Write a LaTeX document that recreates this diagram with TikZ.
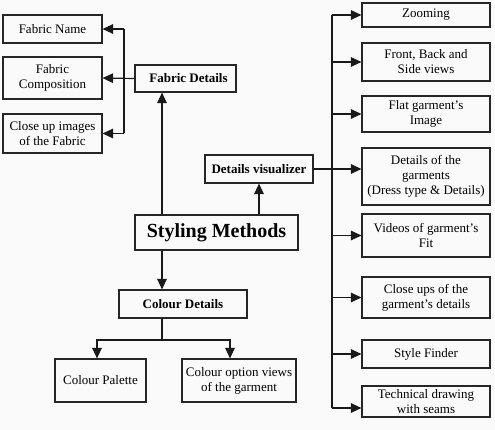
\documentclass[tikz,border=0pt]{standalone}
\usepackage{fontspec}
\setmainfont{Liberation Serif}
\usetikzlibrary{arrows.meta}

\begin{document}
\begin{tikzpicture}[x=1pt,y=-1pt,every node/.style={font=\fontsize{13}{15}\selectfont,align=center,inner sep=0pt},box/.style={draw=black!85,line width=1.1pt,minimum width=#1},box/.default=99pt,head/.style={box=#1,font=\fontsize{13}{15}\selectfont\bfseries},link/.style={line width=1.2pt,black!90},arrow/.style={link,-{Triangle[length=10.5pt,width=9.5pt]}}]
\fill[black!2] (0,0) rectangle (495,430);
% fabric branch
\node[box,minimum height=28pt] (fname) at (52.5,29) {Fabric Name};
\node[box,minimum height=42pt] (fcomp) at (52.5,78) {Fabric\\Composition};
\node[box,minimum height=39pt] (fclose) at (52.5,133.5) {Close up images\\of the Fabric};
\node[head=101pt,minimum height=27pt] (fdet) at (185.5,78.5) {\hspace{6pt}Fabric Details};
% centre
\node[box=163pt,minimum height=35pt,font=\fontsize{20}{24}\selectfont\bfseries] (sm) at (216.5,232.5) {Styling Methods};
\node[head=108pt,minimum height=28pt] (dvis) at (259,169) {Details visualizer};
% colour branch
\node[head=128pt,minimum height=28pt] (cdet) at (183,304) {Colour Details};
\node[box=91pt,minimum height=43pt] (cpal) at (100.5,380.5) {Colour Palette};
\node[box=114pt,minimum height=43pt] (copt) at (239,380.5) {Colour option views\\of the garment};
% visualizer branch
\node[box=128pt,minimum height=24pt] (zoom) at (426,15) {Zooming};
\node[box=128pt,minimum height=38pt] (front) at (426,62) {Front, Back and\\Side views};
\node[box=128pt,minimum height=36pt] (flat) at (426,114) {Flat garment’s\\Image};
\node[box=128pt,minimum height=57pt] (dgar) at (426,176.5) {Details of the\\garments\\(Dress type \& Details)};
\node[box=128pt,minimum height=43pt] (vid) at (426,235.5) {Videos of garment’s\\Fit};
\node[box=128pt,minimum height=41pt] (cup) at (426,297.5) {Close ups of the\\garment’s details};
\node[box=128pt,minimum height=28pt] (sfind) at (426,354) {Style Finder};
\node[box=128pt,minimum height=31pt] (tech) at (426,401.5) {Technical drawing\\with seams};
\coordinate (lb) at (124,0);
\coordinate (cx) at (162,0);
\coordinate (sp) at (332,0);
\coordinate (fk) at (162,340);
\coordinate (tin) at ([yshift=-6.5pt]tech.west);
\draw[link] (fname.east -| lb) -- (fclose.east -| lb);
\draw[arrow] (fname.east -| lb) -- (fname.east); \draw[arrow] (fdet.west) -- (fcomp.east); \draw[arrow] (fclose.east -| lb) -- (fclose.east);
\draw[arrow] (sm.north -| cx) -- (fdet.south -| cx); \draw[arrow] (sm.north -| dvis.south) -- (dvis.south);
\draw[arrow] (sm.south -| cx) -- (cdet.north -| cx);
\draw[link] (cdet.south -| cx) -- (fk);
\draw[arrow] (fk) -| ([xshift=-3.5pt]cpal.north); \draw[arrow] (fk) -| ([xshift=-9pt]copt.north);
\draw[link] (zoom.west -| sp) -- (tin -| sp);
\foreach \b in {zoom,front,flat,vid,cup,sfind}
  \draw[arrow] (\b.west -| sp) -- (\b.west);
\draw[arrow] (tin -| sp) -- (tin);
\draw[arrow] (dvis.east) -- (dvis.east -| dgar.west);
\end{tikzpicture}
\end{document}
